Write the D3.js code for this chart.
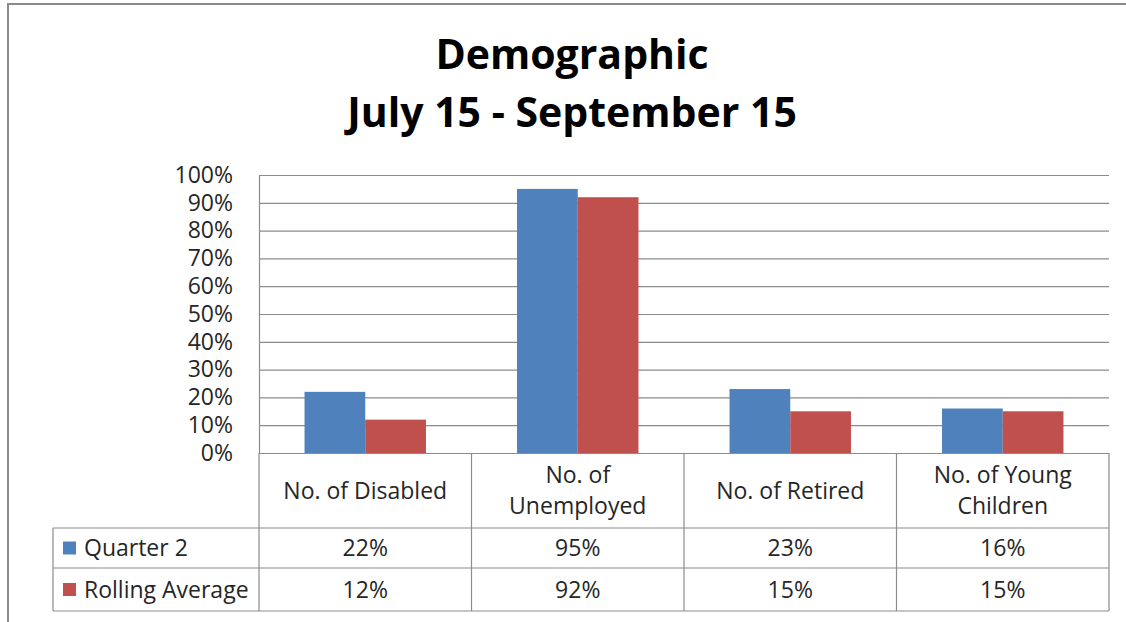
<!DOCTYPE html>
<html>
<head>
<meta charset="utf-8">
<script src="https://cdn.jsdelivr.net/npm/d3@7"></script>
<style>
  body { margin: 0; background: #fff; }
  text { font-family: "Open Sans", sans-serif; fill: #262626; }
</style>
</head>
<body>
<div id="chart"></div>
<script>
// Chart data
const categories = ["No. of Disabled", "No. of Unemployed", "No. of Retired", "No. of Young Children"];
const seriesNames = ["Quarter 2", "Rolling Average"];
const quarter2 = [0.22, 0.95, 0.23, 0.16];
const rollingAverage = [0.12, 0.92, 0.15, 0.15];
const yTicks = [0, 0.1, 0.2, 0.3, 0.4, 0.5, 0.6, 0.7, 0.8, 0.9, 1];
const titleLines = ["Demographic", "July 15 - September 15"];

const colors = ["#4F81BD", "#C0504D"];
const series = [quarter2, rollingAverage];

// Layout
const width = 1126, height = 622;
const plot = {left: 259, right: 1109, top: 175, bottom: 453};
const tableLeft = 53;
const rowBottoms = [528, 568, 611];   // header row, quarter 2 row, rolling average row
const gridColor = "#8c8c8c";

const svg = d3.select("#chart")
    .append("svg")
    .attr("width", width)
    .attr("height", height);

// Outer chart border (only top/left visible in the crop)
svg.append("path")
    .attr("d", `M8,${height} L8,4 L${width},4`)
    .attr("fill", "none")
    .attr("stroke", "#8a8a8a")
    .attr("stroke-width", 2);

// Title
svg.append("g").selectAll("text")
    .data(titleLines)
    .join("text")
    .attr("x", 572)
    .attr("y", (d, i) => 69 + i * 58)
    .attr("text-anchor", "middle")
    .style("font-size", "41px")
    .style("font-weight", "bold")
    .style("fill", "#000")
    .text(d => d);

// Scales
const xScale = d3.scaleBand().domain(categories).range([plot.left, plot.right]).paddingInner(0).paddingOuter(0);
const yScale = d3.scaleLinear().domain([0, 1]).range([plot.bottom, plot.top]);

// Y axis with gridlines
const yAxis = svg.append("g")
    .attr("transform", `translate(${plot.left},0)`)
    .call(d3.axisLeft(yScale)
        .tickValues(yTicks)
        .tickFormat(d3.format(".0%"))
        .tickSize(-(plot.right - plot.left))
        .tickSizeOuter(0)
        .tickPadding(26));
yAxis.selectAll(".tick line").attr("stroke", gridColor).attr("stroke-width", 1.2);
yAxis.select(".domain").attr("stroke", gridColor).attr("stroke-width", 1.2);
yAxis.selectAll(".tick text")
    .style("font-size", "23px")
    .style("font-family", "'Open Sans', sans-serif")
    .attr("fill", "#262626");

// Bars: Excel gap width 150%
const barW = xScale.bandwidth() / 3.5;
const gap = barW * 0.75;
series.forEach((vals, s) => {
    svg.append("g").selectAll("rect")
        .data(vals)
        .join("rect")
        .attr("x", (d, i) => xScale(categories[i]) + gap + s * barW)
        .attr("y", d => yScale(d))
        .attr("width", barW)
        .attr("height", d => yScale(0) - yScale(d))
        .attr("fill", colors[s]);
});

// Data table lines
const table = svg.append("g").attr("stroke", gridColor).attr("stroke-width", 1.2);
// horizontal lines under each row
rowBottoms.forEach(y => {
    table.append("line").attr("x1", tableLeft).attr("x2", plot.right).attr("y1", y).attr("y2", y);
});
// vertical lines at category boundaries
const bounds = categories.map(c => xScale(c)).concat([plot.right]);
bounds.forEach(x => {
    table.append("line").attr("x1", x).attr("x2", x).attr("y1", plot.bottom).attr("y2", rowBottoms[2]);
});
table.append("line").attr("x1", tableLeft).attr("x2", tableLeft).attr("y1", rowBottoms[0]).attr("y2", rowBottoms[2]);

// Category header labels (wrapped to fit the cell)
function wrapLabel(label, maxWidth) {
    const probe = svg.append("text").style("font-size", "23px");
    const words = label.split(" ");
    const lines = [];
    let line = [];
    words.forEach(w => {
        line.push(w);
        probe.text(line.join(" "));
        if (probe.node().getComputedTextLength() > maxWidth && line.length > 1) {
            line.pop();
            lines.push(line.join(" "));
            line = [w];
        }
    });
    lines.push(line.join(" "));
    probe.remove();
    return lines;
}

const headerMid = (plot.bottom + rowBottoms[0]) / 2;
categories.forEach(c => {
    const lines = wrapLabel(c, xScale.bandwidth() - 20);
    svg.append("text")
        .attr("x", xScale(c) + xScale.bandwidth() / 2)
        .attr("text-anchor", "middle")
        .style("font-size", "23px")
        .selectAll("tspan")
        .data(lines)
        .join("tspan")
        .attr("x", xScale(c) + xScale.bandwidth() / 2)
        .attr("y", (d, i) => headerMid + 8 - (lines.length - 1) * 15.5 + i * 31)
        .text(d => d);
});

// Series rows: legend key, name, values
const fmt = d3.format(".0%");
series.forEach((vals, s) => {
    const top = rowBottoms[s];
    const mid = (top + rowBottoms[s + 1]) / 2;
    svg.append("rect")
        .attr("x", 63)
        .attr("y", mid - 6.5)
        .attr("width", 13)
        .attr("height", 13)
        .attr("fill", colors[s]);
    svg.append("text")
        .attr("x", 84)
        .attr("y", mid + 8)
        .style("font-size", "23px")
        .text(seriesNames[s]);
    svg.append("g").selectAll("text")
        .data(vals)
        .join("text")
        .attr("x", (d, i) => xScale(categories[i]) + xScale.bandwidth() / 2)
        .attr("y", mid + 8)
        .attr("text-anchor", "middle")
        .style("font-size", "23px")
        .text(d => fmt(d));
});
</script>
</body>
</html>
